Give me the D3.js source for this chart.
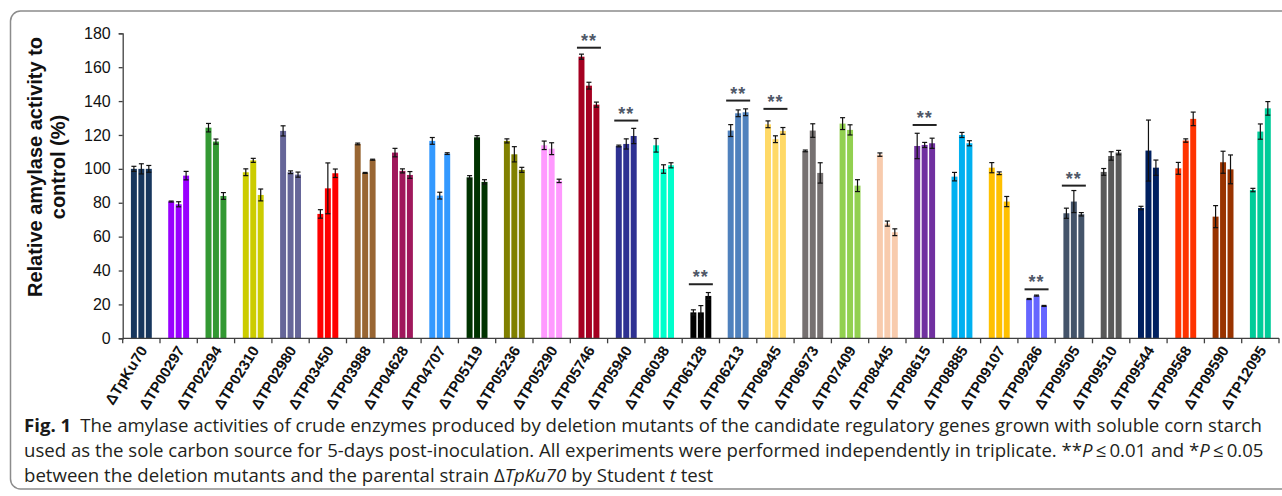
<!DOCTYPE html>
<html>
<head>
<meta charset="utf-8">
<script src="https://cdn.jsdelivr.net/npm/d3@7"></script>
<style>
  body { margin: 0; background: #fff; }
  svg { display: block; }
</style>
</head>
<body>
<svg id="chart" width="1282" height="496"></svg>
<script>
// Deletion mutants (x categories)
const genes = ["ΔTpKu70","ΔTP00297","ΔTP02294","ΔTP02310","ΔTP02980","ΔTP03450","ΔTP03988",
  "ΔTP04628","ΔTP04707","ΔTP05119","ΔTP05236","ΔTP05290","ΔTP05746","ΔTP05940","ΔTP06038",
  "ΔTP06128","ΔTP06213","ΔTP06945","ΔTP06973","ΔTP07409","ΔTP08445","ΔTP08615","ΔTP08885",
  "ΔTP09107","ΔTP09286","ΔTP09505","ΔTP09510","ΔTP09544","ΔTP09568","ΔTP09590","ΔTP12095"];

// Relative amylase activity (%) of the three independent replicates
const rep1 = [100, 80.7, 124.3, 98, 122.4, 73.4, 114.7, 109.6, 116.5, 95, 116.5, 113.9, 166.2, 113.5, 113.9,
  15.3, 122.6, 126.3, 110.6, 126.7, 108.4, 113.5, 95.4, 100.7, 23.2, 73.8, 98.2, 76.9, 100.3, 71.8, 87.5];
const rep2 = [100, 79.1, 116.1, 105, 98, 88.5, 97.6, 98.8, 84.2, 118.6, 108.6, 111.9, 149.1, 114.7, 99.9,
  15.3, 132.8, 117.5, 122.6, 123, 67.7, 114.1, 120, 97.4, 25.2, 80.7, 107.6, 110.8, 116.7, 103.9, 122];
const rep3 = [100, 96, 84, 84.6, 96.6, 97.4, 105.4, 96.4, 109, 92.3, 99.4, 92.9, 137.9, 119.4, 102.1,
  25, 133.4, 122.4, 97.6, 90.1, 62.6, 115.1, 115.1, 80.7, 19.1, 73.2, 109.6, 100.7, 129.5, 99.7, 135.7];

// Standard deviations of each replicate
const err1 = [1.5, 0.3, 2.5, 2, 3, 2.5, 0.5, 2.5, 2, 1, 1.2, 2.5, 1.5, 0.5, 4,
  1.5, 3.5, 2, 0.5, 3.5, 1, 7.5, 2.5, 3, 0.3, 3, 2, 1, 3.5, 6.5, 1];
const err2 = [3, 1.5, 1.5, 1.2, 0.8, 15, 0.3, 1.2, 2, 1, 4.5, 3.5, 2, 3, 2.5,
  4, 2, 2, 4, 3, 1.5, 1.5, 1.5, 0.8, 0.3, 6.5, 2.5, 18, 1, 6.5, 4.5];
const err3 = [2, 2.5, 2, 3.5, 1.5, 2.5, 0.3, 2, 0.5, 1.3, 1.5, 1, 1.5, 4.5, 1.5,
  2, 2, 2, 6, 3.5, 2, 3, 1.5, 3, 0.3, 1, 1.3, 4.5, 4, 8.5, 4];

// One fill colour per mutant
const colors = ["#17365d","#9900ff","#339933","#cccc00","#666699","#ff0000","#996633","#a0185c",
  "#3399ff","#003300","#808000","#ff99ff","#a50021","#2e3192","#00ffcc","#000000","#4f81bd",
  "#ffd966","#767171","#92d050","#f8cbad","#7030a0","#00b0f0","#ffc000","#6666ff","#44546a",
  "#595959","#002060","#ff3300","#993300","#00cc99"];

// Significant mutants (**P <= 0.01) and the height of their marker bar
const sigGenes  = ["ΔTP05746","ΔTP05940","ΔTP06128","ΔTP06213","ΔTP06945","ΔTP08615","ΔTP09286","ΔTP09505"];
const sigLevels = [171.5, 128.5, 31.9, 140.3, 135.4, 125.9, 28.9, 90.1];

const yTicks = [0, 20, 40, 60, 80, 100, 120, 140, 160, 180];
const replicates = ["r1", "r2", "r3"];

const svg = d3.select("#chart");

// Figure frame
svg.append("rect")
  .attr("x", 10.5).attr("y", 11).attr("width", 1300).attr("height", 478)
  .attr("rx", 10).attr("fill", "none").attr("stroke", "#8c8c8c").attr("stroke-width", 1.5);

const plotLeft = 122.7, plotRight = 1279, plotTop = 33.3, plotBottom = 338.3;

const y = d3.scaleLinear().domain([0, 180]).range([plotBottom, plotTop]);
const x = d3.scaleBand().domain(genes).range([plotLeft, plotRight]).paddingInner(0.44).paddingOuter(0.22);
const xr = d3.scaleBand().domain(replicates).range([0, x.bandwidth()]).paddingInner(0.2);

const rows = genes.map((g, i) => ({
  gene: g, color: colors[i],
  reps: [
    { key: "r1", v: rep1[i], e: err1[i] },
    { key: "r2", v: rep2[i], e: err2[i] },
    { key: "r3", v: rep3[i], e: err3[i] }
  ]
}));

// Bars
const groups = svg.append("g").selectAll("g").data(rows).join("g")
  .attr("transform", d => `translate(${x(d.gene)},0)`);

groups.selectAll("rect").data(d => d.reps.map(r => ({ ...r, color: d.color }))).join("rect")
  .attr("x", d => xr(d.key))
  .attr("y", d => y(d.v))
  .attr("width", xr.bandwidth())
  .attr("height", d => y(0) - y(d.v))
  .attr("fill", d => d.color);

// Error bars
const eb = groups.selectAll("g.err").data(d => d.reps).join("g").attr("class", "err")
  .attr("stroke", "#111").attr("stroke-width", 1.2);
const capW = 5;
const cx = d => xr(d.key) + xr.bandwidth() / 2;
eb.append("line")
  .attr("x1", cx).attr("x2", cx)
  .attr("y1", d => y(d.v - d.e)).attr("y2", d => y(d.v + d.e));
eb.append("line")
  .attr("x1", d => cx(d) - capW / 2).attr("x2", d => cx(d) + capW / 2)
  .attr("y1", d => y(d.v + d.e)).attr("y2", d => y(d.v + d.e));
eb.append("line")
  .attr("x1", d => cx(d) - capW / 2).attr("x2", d => cx(d) + capW / 2)
  .attr("y1", d => y(d.v - d.e)).attr("y2", d => y(d.v - d.e));

// Significance markers
const sig = svg.append("g").selectAll("g").data(sigGenes.map((g, i) => ({ gene: g, level: sigLevels[i] })))
  .join("g")
  .attr("transform", d => `translate(${x(d.gene) + x.bandwidth() / 2},${y(d.level)})`);
sig.append("line").attr("x1", -12).attr("x2", 12).attr("y1", 0).attr("y2", 0)
  .attr("stroke", "#222").attr("stroke-width", 2);
sig.append("text").attr("y", -1).attr("text-anchor", "middle")
  .attr("font-family", "Liberation Sans, Arial, sans-serif").attr("font-weight", "bold")
  .attr("font-size", 18).attr("letter-spacing", 1).attr("fill", "#4f5868").text("**");

// Y axis
const yAxis = svg.append("g").attr("transform", `translate(${plotLeft},0)`)
  .call(d3.axisLeft(y).tickValues(yTicks).tickSize(4).tickPadding(8));
yAxis.select(".domain").attr("stroke", "#404040").attr("stroke-width", 1.3);
yAxis.selectAll(".tick line").attr("stroke", "#404040").attr("stroke-width", 1.3);
yAxis.selectAll(".tick text").attr("font-family", "Liberation Sans, Arial, sans-serif")
  .attr("font-size", 16).attr("fill", "#111");

// X axis: baseline, boundary ticks and rotated labels
const xAxis = svg.append("g");
xAxis.append("line").attr("x1", plotLeft).attr("x2", plotRight).attr("y1", plotBottom).attr("y2", plotBottom)
  .attr("stroke", "#404040").attr("stroke-width", 1.3);
const boundaries = d3.range(genes.length + 1).map(i => plotLeft + i * x.step());
xAxis.selectAll("line.bt").data(boundaries).join("line").attr("class", "bt")
  .attr("x1", d => d).attr("x2", d => d).attr("y1", plotBottom).attr("y2", plotBottom + 5)
  .attr("stroke", "#404040").attr("stroke-width", 1.3);
xAxis.selectAll("text").data(genes).join("text")
  .attr("transform", d => `translate(${x(d) + x.bandwidth() / 2 + 2},${plotBottom + 9}) rotate(-58)`)
  .attr("text-anchor", "end").attr("dy", "0.35em")
  .attr("font-family", "Liberation Sans Narrow, Arial Narrow, sans-serif").attr("font-weight", "bold")
  .attr("font-size", 15).attr("fill", "#111").text(d => d);

// Y axis title
const yTitle = svg.append("text")
  .attr("transform", "translate(0,167) rotate(-90)")
  .attr("text-anchor", "middle")
  .attr("font-family", "Liberation Sans, Arial, sans-serif").attr("font-weight", "bold")
  .attr("font-size", 20).attr("fill", "#111");
yTitle.append("tspan").attr("x", 0).attr("y", 42).text("Relative amylase activity to");
yTitle.append("tspan").attr("x", 0).attr("y", 65).text("control (%)");

// Caption
const cap = svg.append("g").attr("font-family", "Open Sans, sans-serif").attr("fill", "#231f20");
const line1 = cap.append("text").attr("x", 24).attr("y", 432);
line1.append("tspan").attr("font-weight", "bold").attr("fill", "#1a1a1a").text("Fig. 1");
line1.append("tspan").attr("dx", 9).text("The amylase activities of crude enzymes produced by deletion mutants of the candidate regulatory genes grown with soluble corn starch");
const line2 = cap.append("text").attr("x", 24).attr("y", 457);
line2.append("tspan").text("used as the sole carbon source for 5-days post-inoculation. All experiments were performed independently in triplicate. **");
line2.append("tspan").attr("font-style", "italic").text("P");
line2.append("tspan").text("\u2009≤\u20090.01 and *");
line2.append("tspan").attr("font-style", "italic").text("P");
line2.append("tspan").text("\u2009≤\u20090.05");
const line3 = cap.append("text").attr("x", 24).attr("y", 482);
line3.append("tspan").text("between the deletion mutants and the parental strain Δ");
line3.append("tspan").attr("font-style", "italic").text("TpKu70");
line3.append("tspan").text(" by Student ");
line3.append("tspan").attr("font-style", "italic").text("t");
line3.append("tspan").text(" test");

// Size the caption so the first line fills the frame width
cap.attr("font-size", 16);
const w = line1.node().getComputedTextLength();
cap.attr("font-size", 16 * (1229 / w));
</script>
</body>
</html>
